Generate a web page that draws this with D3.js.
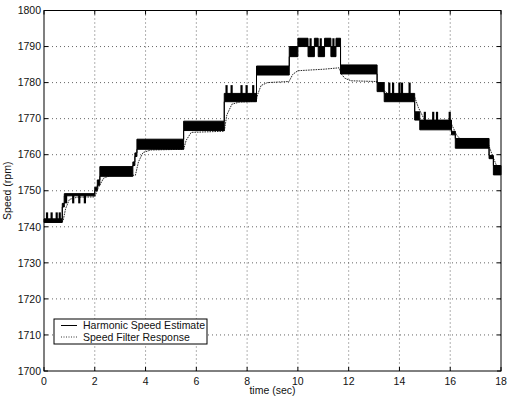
<!DOCTYPE html>
<html><head><meta charset="utf-8">
<script src="https://cdn.jsdelivr.net/npm/d3@7/dist/d3.min.js"></script>
<style>
body{margin:0;background:#fff;}
text{font-family:"Liberation Sans",Arial,sans-serif;fill:#111;}
</style></head>
<body><svg id="c" width="509" height="400"></svg>
<script>
// ---- data ----
const xTicks = [0,2,4,6,8,10,12,14,16,18];
const yTicks = [1700,1710,1720,1730,1740,1750,1760,1770,1780,1790,1800];
// Harmonic speed estimate: step breakpoints with the band it dithers in
const hT  = [0,0.72,0.8,2.0,2.1,2.2,3.5,3.58,3.66,5.5,7.1,8.37,9.66,10.0,10.4,10.65,10.8,11.05,11.3,11.5,11.68,13.12,13.4,14.6,14.8,16.05,16.2,17.53,17.7,18];
const hLo = [1741.2,1745.5,1748.6,1750,1751.5,1754,1757,1759.5,1761.5,1766.7,1774.7,1782.1,1787.2,1790,1787.2,1790,1787.2,1790,1787.2,1790,1782.4,1777.5,1774.7,1769.6,1766.9,1765.5,1761.8,1758.9,1754.4,1754.4];
const hHi = [1742.2,1746.5,1749.2,1751,1753,1756.7,1758,1760.5,1764.3,1769.3,1777,1784.6,1790,1792.3,1790,1792.3,1790,1792.3,1790,1792.3,1784.9,1780,1777,1771.9,1769.6,1766.5,1764.5,1759.8,1757,1757];
// isolated excursions of the estimate
const spikeT  = [0.12,0.3,0.5,0.62, 0.87,1.15,1.39,1.61, 7.19,7.39,7.78,7.98,8.24, 10.5,10.9,11.4, 13.6,13.75,14.0,14.1,14.4, 15.0,15.33,15.48,15.98];
const spikeLo = [1741.5,1741.5,1741.5,1741.5, 1746.5,1746.5,1746.5,1746.5, 1776,1776,1776,1776,1776, 1789,1789,1789, 1776,1776,1776,1776,1776, 1768.5,1768.5,1768.5,1768.5];
const spikeHi = [1744,1744,1744,1744, 1749,1749,1749,1749, 1779.3,1779.3,1779.3,1779.3,1779.3, 1792.3,1792.3,1792.3, 1780,1780,1780,1780,1780, 1771.9,1771.9,1771.9,1771.9];
// Speed filter response
const fT = [0,0.75,0.85,1.0,1.3,2.0,2.15,2.35,2.6,3.6,3.72,3.9,4.2,5.5,5.6,5.8,7.1,7.2,7.4,7.7,8.35,8.42,8.55,8.8,9.65,9.8,10.0,10.5,11.0,11.62,11.72,11.85,12.1,13.12,13.3,13.6,14.6,14.75,15.0,16.05,16.25,16.5,17.5,17.65,17.85,18];
const fV = [1741.6,1741.6,1745,1747.6,1748.2,1748.3,1751,1753.5,1754.2,1754.3,1758,1760.6,1761.3,1761.5,1764,1766.2,1766.5,1771,1774,1774.6,1774.8,1776.8,1779.2,1780,1780.3,1782.3,1783.3,1783.5,1783.7,1784.1,1782.3,1781.2,1780.5,1780.3,1778.5,1776.5,1776,1773,1769.5,1768.5,1765.5,1763.5,1763,1760,1756.5,1755.8];
const legendLabels = ["Harmonic Speed Estimate","Speed Filter Response"];

// ---- chart ----
const L=44, R=501, T=10.5, B=371;
const svg = d3.select("#c");
const x = d3.scaleLinear().domain([0,18]).range([L,R]);
const y = d3.scaleLinear().domain([1700,1800]).range([B,T]);

// grid
const g = svg.append("g");
g.selectAll(".gx").data(xTicks.slice(1,-1)).join("line")
  .attr("x1",d=>x(d)).attr("x2",d=>x(d)).attr("y1",T).attr("y2",B)
  .attr("stroke","#555").attr("stroke-width",0.9).attr("stroke-dasharray","1,3");
g.selectAll(".gy").data(yTicks.slice(1,-1)).join("line")
  .attr("y1",d=>y(d)).attr("y2",d=>y(d)).attr("x1",L).attr("x2",R)
  .attr("stroke","#555").attr("stroke-width",0.9).attr("stroke-dasharray","1,3");

// filter response (dotted)
const fData = fT.map((t,i)=>[t,fV[i]]);
svg.append("path").datum(fData)
  .attr("d",d3.line().x(d=>x(d[0])).y(d=>y(d[1])))
  .attr("fill","none").attr("stroke","#111").attr("stroke-width",0.9).attr("stroke-dasharray","1.6,0.9");

// harmonic estimate band
const hData = hT.map((t,i)=>({t,lo:hLo[i],hi:hHi[i]}));
svg.append("path").datum(hData)
  .attr("d",d3.area().curve(d3.curveStepAfter).x(d=>x(d.t)).y0(d=>y(d.lo)).y1(d=>y(d.hi)))
  .attr("fill","#000").attr("stroke","#000").attr("stroke-width",1).attr("stroke-linejoin","miter");
svg.selectAll(".sp").data(spikeT).join("line")
  .attr("x1",d=>x(d)).attr("x2",d=>x(d))
  .attr("y1",(d,i)=>y(spikeLo[i])).attr("y2",(d,i)=>y(spikeHi[i]))
  .attr("stroke","#000").attr("stroke-width",2.2);

// frame and ticks
svg.append("rect").attr("x",L).attr("y",T).attr("width",R-L).attr("height",B-T)
  .attr("fill","none").attr("stroke","#000").attr("stroke-width",1);
const tk=4;
svg.append("g").selectAll("line").data(xTicks).join("line")
  .attr("x1",d=>x(d)).attr("x2",d=>x(d)).attr("y1",B).attr("y2",B-tk).attr("stroke","#000");
svg.append("g").selectAll("line").data(xTicks).join("line")
  .attr("x1",d=>x(d)).attr("x2",d=>x(d)).attr("y1",T).attr("y2",T+tk).attr("stroke","#000");
svg.append("g").selectAll("line").data(yTicks).join("line")
  .attr("x1",L).attr("x2",L+tk).attr("y1",d=>y(d)).attr("y2",d=>y(d)).attr("stroke","#000");
svg.append("g").selectAll("line").data(yTicks).join("line")
  .attr("x1",R).attr("x2",R-tk).attr("y1",d=>y(d)).attr("y2",d=>y(d)).attr("stroke","#000");

// tick labels
svg.append("g").selectAll("text").data(xTicks).join("text")
  .attr("x",d=>x(d)).attr("y",B+13.5).attr("text-anchor","middle")
  .attr("font-size",10.5).text(d=>d);
svg.append("g").selectAll("text").data(yTicks).join("text")
  .attr("x",L-3).attr("y",d=>y(d)+3.7).attr("text-anchor","end")
  .attr("font-size",10.5).text(d=>d);

// axis titles
svg.append("text").attr("x",(L+R)/2).attr("y",394).attr("text-anchor","middle")
  .attr("font-size",10.5).text("time (sec)");
svg.append("text").attr("transform",`translate(11,${(T+B)/2}) rotate(-90)`)
  .attr("text-anchor","middle").attr("font-size",10.5).text("Speed (rpm)");

// legend
const lg = svg.append("g");
lg.append("rect").attr("x",54).attr("y",319).attr("width",153).attr("height",25)
  .attr("fill","#fff").attr("stroke","#000").attr("stroke-width",1);
lg.append("line").attr("x1",61).attr("x2",77).attr("y1",325.5).attr("y2",325.5)
  .attr("stroke","#000").attr("stroke-width",1);
lg.append("line").attr("x1",61).attr("x2",77).attr("y1",337).attr("y2",337)
  .attr("stroke","#222").attr("stroke-width",0.9).attr("stroke-dasharray","1,1.5");
lg.selectAll("text").data(legendLabels).join("text")
  .attr("x",83).attr("y",(d,i)=>329.3+i*11.5).attr("font-size",10.5).text(d=>d);
</script></body></html>
